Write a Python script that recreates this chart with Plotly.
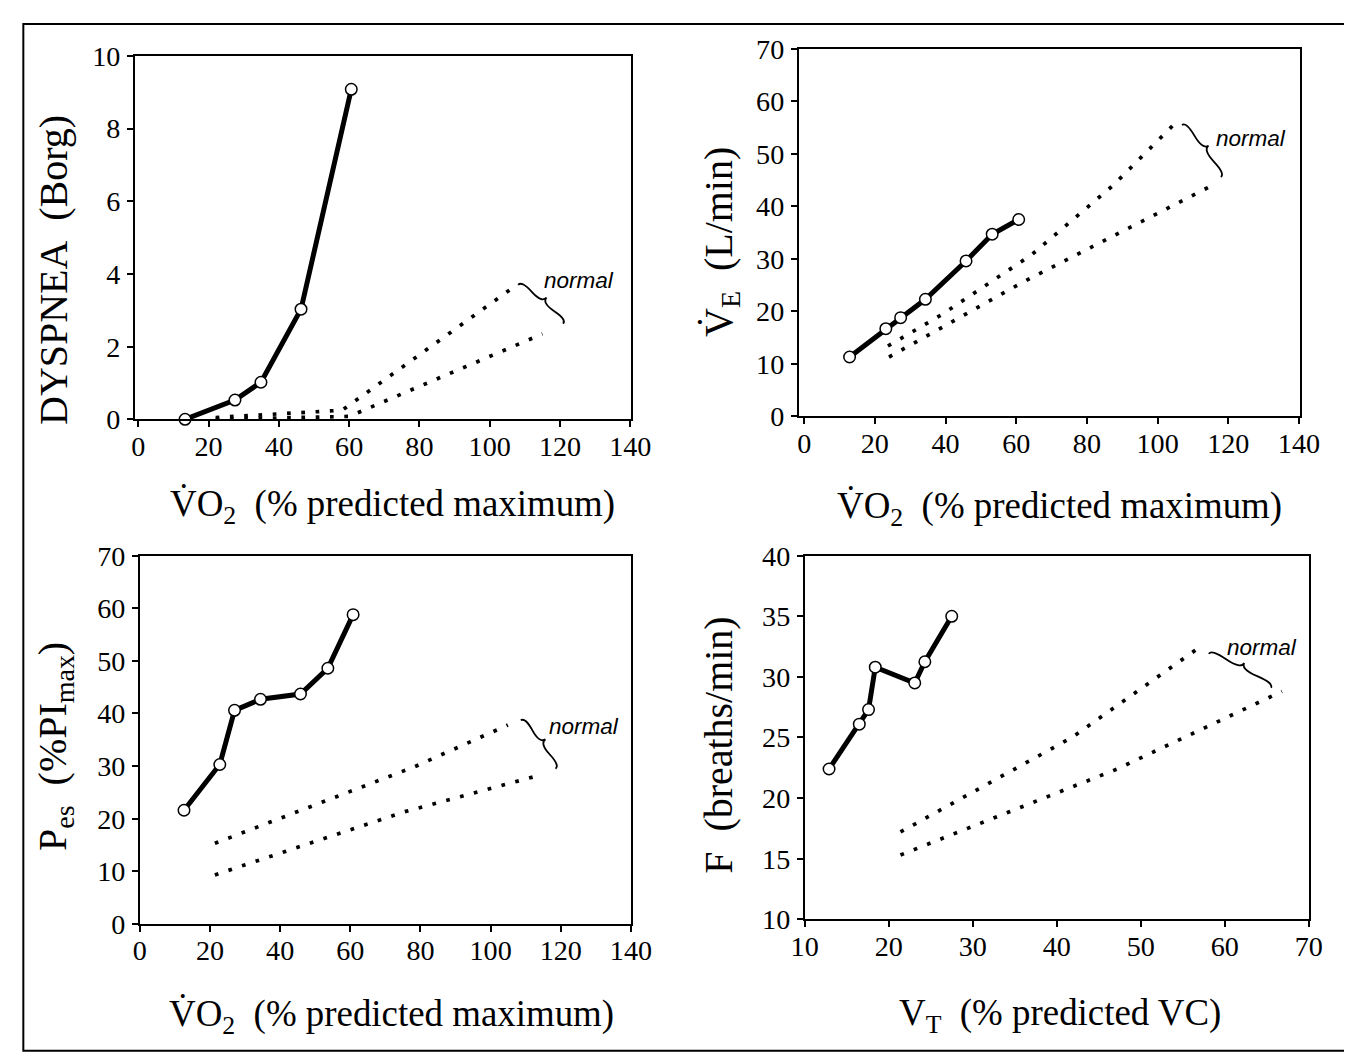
import plotly.graph_objects as go
import math

# The rendered page shows the figure offset by O px and scaled by S; positions below are
# given in target-picture pixels and converted to figure pixels.
S_X, S_Y = 0.976, 0.975
O_X, O_Y = 20, 20
W = int(round((1352 - O_X) / S_X))
H = int(round((1058 - O_Y) / S_Y))

# ---------------- data ----------------
vo2_a = [13.3, 27.5, 34.9, 46.3, 60.6]
dyspnea = [0.0, 0.53, 1.02, 3.03, 9.08]
norm_a_up_x = [22, 58, 107]
norm_a_up_y = [0.05, 0.25, 3.65]
norm_a_lo_x = [22, 60, 115]
norm_a_lo_y = [0.0, 0.08, 2.35]

vo2_b = [12.85, 23.1, 27.3, 34.3, 45.8, 53.2, 60.7]
ve = [11.3, 16.7, 18.8, 22.3, 29.6, 34.7, 37.5]
norm_b_up_x = [23.7, 39.0, 64.4, 87.4, 104.6]
norm_b_up_y = [13.4, 19.4, 30.8, 44.0, 55.6]
norm_b_lo_x = [24.0, 62.0, 114.3]
norm_b_lo_y = [11.3, 25.6, 43.6]

vo2_c = [12.6, 22.8, 27.0, 34.4, 45.8, 53.6, 60.8]
pes = [21.6, 30.3, 40.6, 42.7, 43.7, 48.6, 58.8]
norm_c_up_x = [21.4, 78.4, 104.9]
norm_c_up_y = [15.3, 29.9, 37.8]
norm_c_lo_x = [21.4, 75.4, 114.2]
norm_c_lo_y = [9.3, 21.3, 28.3]

vt_d = [12.9, 16.5, 17.6, 18.4, 23.1, 24.3, 27.5]
freq = [22.4, 26.1, 27.3, 30.8, 29.5, 31.25, 35.0]
norm_d_up_x = [21.4, 41.8, 56.9]
norm_d_up_y = [17.2, 25.0, 32.4]
norm_d_lo_x = [21.4, 47.2, 66.8]
norm_d_lo_y = [15.3, 22.4, 28.8]

ticks_vo2 = [0, 20, 40, 60, 80, 100, 120, 140]
ticks_a_y = [0, 2, 4, 6, 8, 10]
ticks_70 = [0, 10, 20, 30, 40, 50, 60, 70]
ticks_d_x = [10, 20, 30, 40, 50, 60, 70]
ticks_d_y = [10, 15, 20, 25, 30, 35, 40]

brace_a = [(108.1, 3.70), (120.9, 2.63)]
brace_b = [(106.9, 55.5), (117.9, 45.6)]
brace_c = [(108.6, 38.7), (118.5, 29.5)]
brace_d = [(58.1, 31.9), (65.5, 29.1)]
label_a = (125.4, 3.81)
label_b = (126.4, 53.0)
label_c = (126.6, 37.5)
label_d = (64.4, 32.4)

# panel boxes in target pixels: (left, right, top, bottom, xrange, yrange)
panels = {
    "a": (133, 630, 53, 418, [-1.0, 140.2], [0, 10]),
    "b": (798, 1300, 46, 415, [-1.55, 140.25], [0, 70]),
    "c": (138, 630, 555, 924.6, [0, 140], [0, 70]),
    "d": (804, 1309, 555, 920, [10, 70], [10, 40]),
}
axis_ids = {"a": ("x", "y"), "b": ("x2", "y2"), "c": ("x3", "y3"), "d": ("x4", "y4")}

def px2paper_x(px):
    return ((px - O_X) / S_X) / W

def px2paper_y(py):
    return 1 - ((py - O_Y) / S_Y) / H

def fs(size):
    return size / S_X

SERIF = "Liberation Serif, Times New Roman, serif"
SANS = "Liberation Sans, Arial, sans-serif"

fig = go.Figure()

def add_panel(key, px, py, nux, nuy, nlx, nly):
    xa, ya = axis_ids[key]
    for nx, ny in ((nux, nuy), (nlx, nly)):
        fig.add_trace(go.Scatter(
            x=nx, y=ny, xaxis=xa, yaxis=ya, mode="lines",
            line=dict(color="black", width=3.7, dash="3.7px,10.6px"),
            hoverinfo="skip", showlegend=False, cliponaxis=False))
    fig.add_trace(go.Scatter(
        x=px, y=py, xaxis=xa, yaxis=ya, mode="lines+markers",
        line=dict(color="black", width=5),
        marker=dict(symbol="circle", size=11.5, color="white",
                    line=dict(color="black", width=1.5)),
        showlegend=False, cliponaxis=False))

add_panel("a", vo2_a, dyspnea, norm_a_up_x, norm_a_up_y, norm_a_lo_x, norm_a_lo_y)
add_panel("b", vo2_b, ve, norm_b_up_x, norm_b_up_y, norm_b_lo_x, norm_b_lo_y)
add_panel("c", vo2_c, pes, norm_c_up_x, norm_c_up_y, norm_c_lo_x, norm_c_lo_y)
add_panel("d", vt_d, freq, norm_d_up_x, norm_d_up_y, norm_d_lo_x, norm_d_lo_y)

tickvals = {"a": (ticks_vo2, ticks_a_y), "b": (ticks_vo2, ticks_70),
            "c": (ticks_vo2, ticks_70), "d": (ticks_d_x, ticks_d_y)}

layout = dict(width=W, height=H, autosize=False,
              margin=dict(l=0, r=0, t=0, b=0, pad=0),
              paper_bgcolor="white", plot_bgcolor="white", showlegend=False)

for key, (x0, x1, yt, yb, xr, yr) in panels.items():
    xa, ya = axis_ids[key]
    xname = "xaxis" + xa[1:]
    yname = "yaxis" + ya[1:]
    common = dict(showline=True, mirror=True, linecolor="black", linewidth=1.6,
                  ticks="outside", ticklen=6, tickwidth=1.5, tickcolor="black",
                  showgrid=False, zeroline=False, fixedrange=True,
                  tickfont=dict(family=SERIF, size=fs(27.5), color="black"))
    layout[xname] = dict(domain=[px2paper_x(x0), px2paper_x(x1)], range=xr, anchor=ya,
                         tickvals=tickvals[key][0], ticklabelstandoff=-5, **common)
    layout[yname] = dict(domain=[px2paper_y(yb), px2paper_y(yt)], range=yr, anchor=xa,
                         tickvals=tickvals[key][1], ticklabelstandoff=1, **common)

fig.update_layout(**layout)

def brace_path(key, p0, p1, w=9.0, q=0.6):
    x0, x1, yt, yb, xr, yr = panels[key]
    sx = (x1 - x0) / (xr[1] - xr[0])
    sy = (yb - yt) / (yr[1] - yr[0])
    P0 = (p0[0] * sx, p0[1] * sy)
    P1 = (p1[0] * sx, p1[1] * sy)
    dx, dy = P1[0] - P0[0], P1[1] - P0[1]
    L = math.hypot(dx, dy)
    ux, uy = dx / L, dy / L
    nx, ny = -uy, ux
    if ny < 0:
        nx, ny = -nx, -ny
    def pt(base, along, off):
        return (base[0] + along * ux + off * nx, base[1] + along * uy + off * ny)
    c1 = pt(P0, 0, q * w)
    e1 = pt(P0, 0.25 * L, (1 - q) * w)
    tip = pt(P0, 0.5 * L, w)
    c2 = (2 * e1[0] - c1[0], 2 * e1[1] - c1[1])
    c3 = pt(P1, 0, q * w)
    e3 = pt(P0, 0.75 * L, (1 - q) * w)
    c4 = (2 * e3[0] - c3[0], 2 * e3[1] - c3[1])
    f = lambda p: f"{p[0] / sx:.4f},{p[1] / sy:.4f}"
    return (f"M {f(P0)} Q {f(c1)} {f(e1)} Q {f(c2)} {f(tip)} "
            f"M {f(P1)} Q {f(c3)} {f(e3)} Q {f(c4)} {f(tip)}")

shapes = []
for key, br in (("a", brace_a), ("b", brace_b), ("c", brace_c), ("d", brace_d)):
    xa, ya = axis_ids[key]
    shapes.append(dict(type="path", path=brace_path(key, br[0], br[1]),
                       xref=xa, yref=ya, line=dict(color="black", width=1.8)))

# outer frame of the figure
shapes.append(dict(type="rect", xref="paper", yref="paper",
                   x0=max(px2paper_x(7), 0.001), x1=min(px2paper_x(1346), 0.999),
                   y0=max(px2paper_y(1052), 0.001), y1=min(px2paper_y(7), 0.999),
                   line=dict(color="black", width=2)))

annotations = []
for key, lab in (("a", label_a), ("b", label_b), ("c", label_c), ("d", label_d)):
    xa, ya = axis_ids[key]
    annotations.append(dict(x=lab[0], y=lab[1], xref=xa, yref=ya, text="normal",
                            showarrow=False, xanchor="center", yanchor="middle",
                            font=dict(family=SANS, size=fs(22), color="black", style="italic")))

def title(text, xpx, ypx, angle=0, size=36):
    annotations.append(dict(x=px2paper_x(xpx), y=px2paper_y(ypx), xref="paper", yref="paper",
                            text=text, showarrow=False, textangle=angle,
                            xanchor="center", yanchor="middle",
                            font=dict(family=SERIF, size=fs(size), color="black")))

NB = "\u00a0\u00a0"
vo2 = "V\u0307O<sub>2</sub>" + NB + "(% predicted maximum)"
title(vo2, 391, 506)
title(vo2, 1059, 508)
title(vo2, 390, 1018)
title("V<sub>T</sub>" + NB + "(% predicted VC)", 1060, 1017)
title("DYSPNEA" + NB + "(Borg)", 52, 268, -90, 39)
title("V\u0307<sub>E</sub>" + NB + "(L/min)", 720, 240, -90, 39)
title("P<sub>es</sub>" + NB + "(%PI<sub>max</sub>)", 53, 746, -90, 39)
title("F" + NB + "(breaths/min)", 718, 745, -90, 39)

fig.update_layout(shapes=shapes, annotations=annotations)
fig.write_html("out.html")
